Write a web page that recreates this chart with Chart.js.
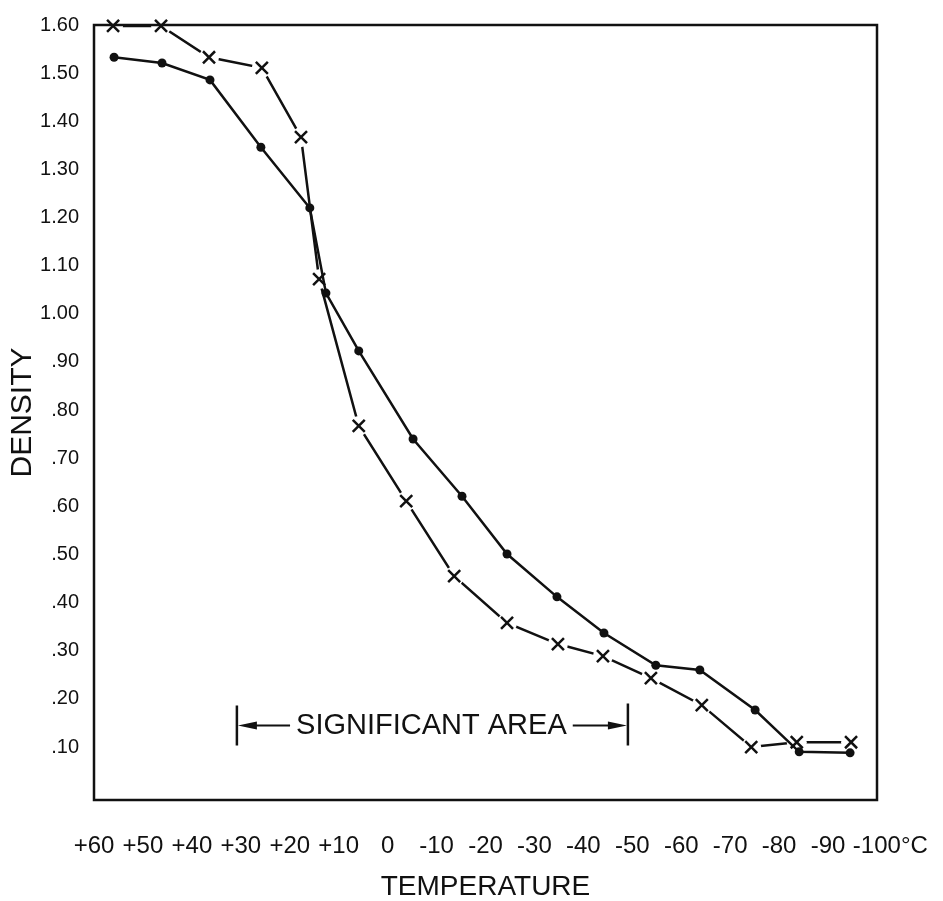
<!DOCTYPE html>
<html lang="en">
<head>
<meta charset="UTF-8">
<title>Density vs Temperature</title>
<script src="https://cdn.jsdelivr.net/npm/chart.js@4.4.1/dist/chart.umd.min.js"></script>
<style>
  html, body { margin: 0; padding: 0; background: #fff; }
  #wrap { width: 943px; height: 901px; }
</style>
</head>
<body>
<div id="wrap"><canvas id="densityChart" width="943" height="901"></canvas></div>
<script>
// Dados (temperatura em °C, densidade)
const dotTemps = [55.9, 46.1, 36.3, 25.9, 15.9, 12.6, 5.9, -5.2, -15.2, -24.4, -34.6, -44.2, -54.8, -63.8, -75.1, -84.1, -94.5];
const dotDensity = [1.533, 1.521, 1.486, 1.346, 1.220, 1.043, 0.923, 0.740, 0.621, 0.501, 0.412, 0.337, 0.270, 0.260, 0.177, 0.090, 0.088];

const crossTemps = [56.1, 46.3, 36.5, 25.7, 17.7, 14.0, 5.9, -3.8, -13.6, -24.4, -34.8, -44.0, -53.8, -64.2, -74.3, -83.6, -94.7];
const crossDensity = [1.598, 1.598, 1.533, 1.511, 1.367, 1.072, 0.767, 0.611, 0.455, 0.358, 0.314, 0.289, 0.243, 0.187, 0.100, 0.110, 0.110];

// Rótulos dos eixos
const xTickValues = [60, 50, 40, 30, 20, 10, 0, -10, -20, -30, -40, -50, -60, -70, -80, -90, -100];
// espaços de figura no último rótulo para manter o "-100" sobre o traço
const xTickLabels = ['+60', '+50', '+40', '+30', '+20', '+10', '0', '-10', '-20', '-30', '-40', '-50', '-60', '-70', '-80', '-90', '\u2007\u2007-100°C'];
const yTickValues = [1.6, 1.5, 1.4, 1.3, 1.2, 1.1, 1.0, 0.9, 0.8, 0.7, 0.6, 0.5, 0.4, 0.3, 0.2, 0.1];
const yTickLabels = ['1.60', '1.50', '1.40', '1.30', '1.20', '1.10', '1.00', '.90', '.80', '.70', '.60', '.50', '.40', '.30', '.20', '.10'];

// Faixa "SIGNIFICANT AREA"
const significantArea = [30.8, -49.1];
const significantLevel = 0.145;
const significantText = 'SIGNIFICANT AREA';

const INK = '#111';

Chart.defaults.font.family = '"Liberation Sans", Arial, sans-serif';
Chart.defaults.color = INK;

function toPoints(xs, ys) {
    return xs.map((x, i) => ({ x: x, y: ys[i] }));
}

// Moldura e anotação desenhadas depois dos dados
const framePlugin = {
    id: 'framePlugin',
    afterDatasetsDraw(chart) {
        const { ctx, chartArea, scales } = chart;
        ctx.save();
        ctx.strokeStyle = INK;
        ctx.lineWidth = 2.5;
        ctx.strokeRect(chartArea.left, chartArea.top, chartArea.right - chartArea.left, chartArea.bottom - chartArea.top);

        // Anotação da área significativa
        const x1 = scales.x.getPixelForValue(significantArea[0]);
        const x2 = scales.x.getPixelForValue(significantArea[1]);
        const yc = scales.y.getPixelForValue(significantLevel);

        ctx.lineWidth = 2.5;
        ctx.beginPath();
        ctx.moveTo(x1, yc - 20);
        ctx.lineTo(x1, yc + 20);
        ctx.moveTo(x2, yc - 22);
        ctx.lineTo(x2, yc + 20);
        ctx.stroke();

        ctx.font = '29px "Liberation Sans", Arial, sans-serif';
        ctx.fillStyle = INK;
        ctx.textAlign = 'center';
        ctx.textBaseline = 'middle';
        const mid = (x1 + x2) / 2 - 1;
        const w = ctx.measureText(significantText).width;
        ctx.fillText(significantText, mid, yc + 1);

        const tLeft = mid - w / 2 - 6;
        const tRight = mid + w / 2 + 6;
        ctx.lineWidth = 2;
        ctx.beginPath();
        ctx.moveTo(tLeft, yc);
        ctx.lineTo(x1 + 12, yc);
        ctx.moveTo(tRight, yc);
        ctx.lineTo(x2 - 12, yc);
        ctx.stroke();

        // Pontas das setas
        ctx.beginPath();
        ctx.moveTo(x1 + 1, yc);
        ctx.lineTo(x1 + 20, yc - 4);
        ctx.lineTo(x1 + 20, yc + 4);
        ctx.closePath();
        ctx.moveTo(x2 - 1, yc);
        ctx.lineTo(x2 - 20, yc - 4);
        ctx.lineTo(x2 - 20, yc + 4);
        ctx.closePath();
        ctx.fill();
        ctx.restore();
    }
};

const ctx = document.getElementById('densityChart');

const densityChart = new Chart(ctx, {
    type: 'line',
    data: {
        datasets: [
            {
                // Curva com pontos cheios
                data: toPoints(dotTemps, dotDensity),
                borderColor: INK,
                borderWidth: 2.5,
                pointRadius: 4.5,
                pointBackgroundColor: INK,
                pointBorderWidth: 0,
                tension: 0,
                clip: false,
                order: 1
            },
            {
                // Linha dos "x" com círculos brancos para abrir as falhas
                data: toPoints(crossTemps, crossDensity),
                borderColor: INK,
                borderWidth: 2.5,
                pointRadius: 10,
                pointBackgroundColor: '#fff',
                pointBorderWidth: 0,
                tension: 0,
                clip: false,
                order: 3
            },
            {
                // Marcadores "x"
                data: toPoints(crossTemps, crossDensity),
                showLine: false,
                pointStyle: 'crossRot',
                pointRadius: 8.5,
                pointBorderWidth: 2.5,
                pointBorderColor: INK,
                clip: false,
                order: 2
            }
        ]
    },
    options: {
        responsive: false,
        animation: false,
        events: [],
        layout: {
            padding: { top: 25, right: 66, bottom: 0, left: 0 }
        },
        plugins: {
            legend: { display: false },
            tooltip: { enabled: false }
        },
        scales: {
            x: {
                type: 'linear',
                reverse: true,
                min: -100,
                max: 60,
                grid: { display: false },
                border: { display: false },
                afterBuildTicks: (scale) => {
                    scale.ticks = xTickValues.map(v => ({ value: v }));
                },
                afterFit: (scale) => {
                    // altura fixa e sem recuo extra pelos rótulos das pontas
                    scale.height = 101;
                    scale.paddingLeft = 0;
                    scale.paddingRight = 0;
                },
                ticks: {
                    autoSkip: false,
                    maxRotation: 0,
                    padding: 24,
                    font: { size: 24 },
                    callback: (value) => xTickLabels[xTickValues.indexOf(value)]
                },
                title: {
                    display: true,
                    text: 'TEMPERATURE',
                    font: { size: 28, lineHeight: 1.0 },
                    padding: { top: 0, bottom: 0 }
                }
            },
            y: {
                type: 'linear',
                min: -0.01,
                max: 1.6,
                grid: { display: false },
                border: { display: false },
                afterBuildTicks: (scale) => {
                    scale.ticks = yTickValues.map(v => ({ value: v }));
                },
                afterFit: (scale) => {
                    scale.width = 94;
                },
                ticks: {
                    padding: 7,
                    font: { size: 20 },
                    callback: (value) => yTickLabels[yTickValues.indexOf(value)]
                },
                title: {
                    display: true,
                    text: 'DENSITY',
                    font: { size: 30, lineHeight: 1.0 },
                    padding: { top: 8, bottom: 0 }
                }
            }
        }
    },
    plugins: [framePlugin]
});
</script>
</body>
</html>
